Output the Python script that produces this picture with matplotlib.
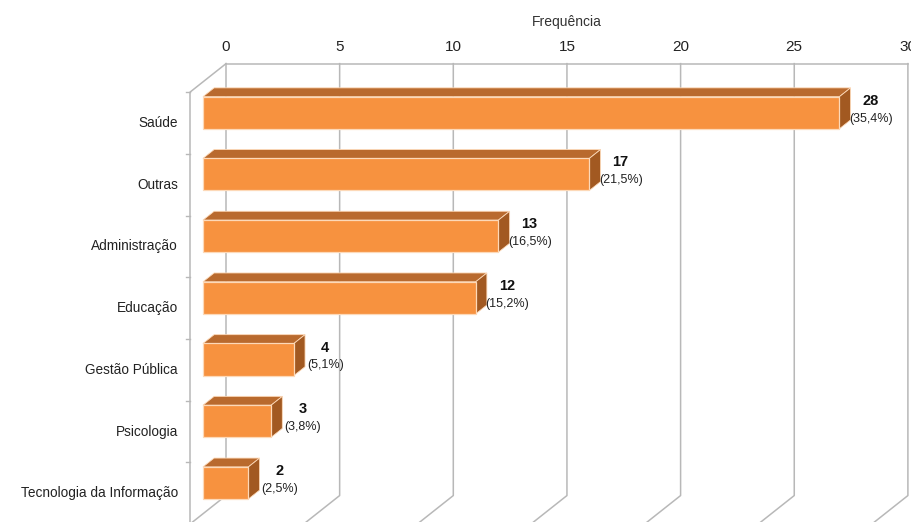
import matplotlib.pyplot as plt
from matplotlib.patches import Polygon

# ---------------------------------------------------------------------------
# dados
# ---------------------------------------------------------------------------
categorias = [
    "Saúde",
    "Outras",
    "Administração",
    "Educação",
    "Gestão Pública",
    "Psicologia",
    "Tecnologia da Informação",
]
frequencias = [28, 17, 13, 12, 4, 3, 2]
percentuais = ["35,4%", "21,5%", "16,5%", "15,2%", "5,1%", "3,8%", "2,5%"]
ticks_x = [0, 5, 10, 15, 20, 25, 30]

# ---------------------------------------------------------------------------
# geometria da caixa 3D (profundidade 0 = plano frontal, 1 = parede do fundo)
# ---------------------------------------------------------------------------
PX_X = 22.73          # px por unidade de frequência
PX_Y = 61.7           # px por categoria
DX = 36 / PX_X        # deslocamento em x da profundidade total
DY = -28.5 / PX_Y     # deslocamento em y da profundidade total
D0, D1 = 0.36, 0.67   # profundidade das barras
MEIA_ALT = 0.26

COR_FRENTE = "#f7923f"
COR_TOPO = "#b96a2e"
COR_LADO = "#a25921"
COR_BORDA = "#fdd9b8"
COR_GRADE = "#b8b8b8"

FONTE = ["Liberation Sans Narrow", "Liberation Sans", "DejaVu Sans"]
plt.rcParams["font.family"] = FONTE


def proj(v, y, d):
    return (v + d * DX, y + d * DY)


W, H = 912, 522
fig = plt.figure(figsize=(W / 100, H / 100), dpi=100)
ax = fig.add_axes([0, 0, 1, 1])
ax.set_xlim(-190 / PX_X, (W - 190) / PX_X)
ax.set_ylim((H - 123) / PX_Y, -123 / PX_Y)
ax.axis("off")

n = len(categorias)
y_top, y_bot = -0.5, n - 0.5
vmax = ticks_x[-1]

# parede do fundo, grade e chão
for t in ticks_x:
    x1, y1 = proj(t, y_top, 1)
    x2, y2 = proj(t, y_bot, 1)
    x3, y3 = proj(t, y_bot, 0)
    ax.plot([x1, x2, x3], [y1, y2, y3], color=COR_GRADE, lw=1.1, zorder=1)
xa, ya = proj(0, y_top, 1)
xb, yb = proj(vmax, y_top, 1)
ax.plot([xa, xb], [ya, yb], color=COR_GRADE, lw=1.1, zorder=1)

# parede lateral esquerda
xc, yc = proj(0, y_top, 0)
xd, yd = proj(0, y_bot, 0)
ax.plot([xa, xc, xd], [ya, yc, yd], color=COR_GRADE, lw=1.1, zorder=1)
for k in range(n + 1):
    xk, yk = proj(0, y_top + k, 0)
    ax.plot([xk - 0.18, xk], [yk, yk], color=COR_GRADE, lw=1.0, zorder=1)

# rótulos do eixo superior
for t in ticks_x:
    xt, _ = proj(t, y_top, 1)
    ax.text(xt, (47 - 123) / PX_Y, str(t), ha="center", va="center",
            fontsize=11, color="#222222")
xm, _ = proj(vmax / 2, y_top, 1)
ax.text(xm, (22 - 123) / PX_Y, "Frequência", ha="center", va="center",
        fontsize=10, color="#333333")

# barras 3D
for i, (cat, v, p) in enumerate(zip(categorias, frequencias, percentuais)):
    top, bot = i - MEIA_ALT, i + MEIA_ALT
    frente = [proj(0, top, D0), proj(v, top, D0), proj(v, bot, D0), proj(0, bot, D0)]
    topo = [proj(0, top, D0), proj(v, top, D0), proj(v, top, D1), proj(0, top, D1)]
    lado = [proj(v, top, D0), proj(v, bot, D0), proj(v, bot, D1), proj(v, top, D1)]
    ax.add_patch(Polygon(topo, closed=True, fc=COR_TOPO, ec=COR_BORDA, lw=0.6, zorder=3))
    ax.add_patch(Polygon(lado, closed=True, fc=COR_LADO, ec=COR_BORDA, lw=0.6, zorder=3))
    ax.add_patch(Polygon(frente, closed=True, fc=COR_FRENTE, ec=COR_BORDA, lw=0.9, zorder=4))

    xr, _ = proj(v, i, D1)
    ax.text(xr + 0.88, i - 0.36, str(v), ha="center", va="center",
            fontsize=10.5, fontweight="bold", color="#111111", zorder=5)
    ax.text(xr + 0.9, i - 0.07, f"({p})", ha="center", va="center",
            fontsize=9, color="#222222", zorder=5)

    ax.text(-12 / PX_X, i, cat, ha="right", va="center",
            fontsize=9.8, color="#222222")

fig.savefig("out.png", dpi=100)
